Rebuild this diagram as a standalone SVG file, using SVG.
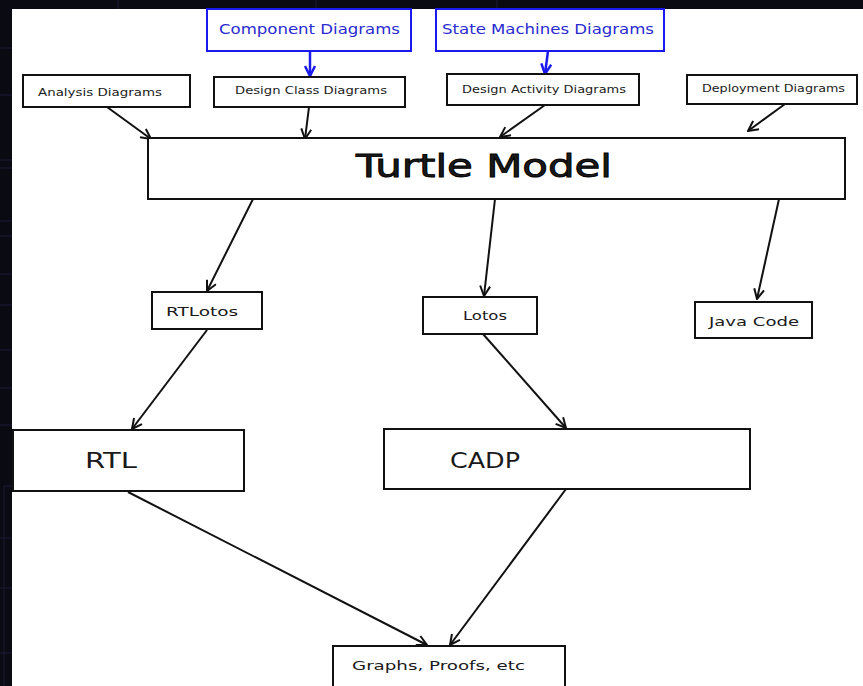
<svg xmlns="http://www.w3.org/2000/svg" width="863" height="686" viewBox="0 0 863 686">
  <style>
    .box { fill: #ffffff; stroke: #111111; stroke-width: 2; }
    .bbox { fill: #ffffff; stroke: #1a1aee; stroke-width: 2; }
    .lbl { font-family: "DejaVu Sans", Verdana, sans-serif; fill: #1a1a1a; }
    .blbl { font-family: "DejaVu Sans", Verdana, sans-serif; fill: #2a2ad0; }
    .edge { stroke: #111111; stroke-width: 2; fill: none; marker-end: url(#arr); }
    .bedge { stroke: #1a1aee; stroke-width: 2.5; fill: none; marker-end: url(#barr); }
    .grid { stroke: #1a1a36; stroke-width: 1; }
  </style>
  <defs>
    <marker id="arr" viewBox="0 0 12 12" refX="11" refY="6" markerWidth="12" markerHeight="12" markerUnits="userSpaceOnUse" orient="auto">
      <path d="M1,1 L11,6 L1,11" fill="none" stroke="#111111" stroke-width="2"/>
    </marker>
    <marker id="barr" viewBox="0 0 12 12" refX="11" refY="6" markerWidth="12" markerHeight="12" markerUnits="userSpaceOnUse" orient="auto">
      <path d="M1,1 L11,6 L1,11" fill="none" stroke="#1a1aee" stroke-width="2.5"/>
    </marker>
  </defs>

  <!-- dark backdrop with faint grid -->
  <rect x="0" y="0" width="863" height="686" fill="#0a0a12"/>
  <g id="grid">
    <line class="grid" x1="118" y1="0" x2="118" y2="9"/>
    <line class="grid" x1="316" y1="0" x2="316" y2="9"/>
    <line class="grid" x1="497" y1="0" x2="497" y2="9"/>
    <line class="grid" x1="0" y1="48" x2="12" y2="48"/>
    <line class="grid" x1="0" y1="95" x2="12" y2="95"/>
    <line class="grid" x1="0" y1="160" x2="12" y2="160"/>
    <line class="grid" x1="0" y1="168" x2="12" y2="168"/>
    <line class="grid" x1="0" y1="221" x2="12" y2="221"/>
    <line class="grid" x1="0" y1="236" x2="12" y2="236"/>
    <line class="grid" x1="0" y1="274" x2="12" y2="274"/>
    <line class="grid" x1="0" y1="305" x2="12" y2="305"/>
    <line class="grid" x1="0" y1="350" x2="12" y2="350"/>
    <line class="grid" x1="0" y1="388" x2="12" y2="388"/>
    <line class="grid" x1="0" y1="425" x2="12" y2="425"/>
    <line class="grid" x1="4" y1="486" x2="12" y2="486"/>
    <line class="grid" x1="4" y1="486" x2="4" y2="686"/>
    <line class="grid" x1="0" y1="538" x2="12" y2="538"/>
    <line class="grid" x1="0" y1="588" x2="12" y2="588"/>
    <line class="grid" x1="0" y1="653" x2="12" y2="653"/>
  </g>
  <!-- drawing sheet -->
  <rect x="12" y="9" width="851" height="677" fill="#ffffff"/>

  <!-- connectors -->
  <g id="connectors">
    <line class="bedge" x1="310" y1="51" x2="310" y2="76"/>
    <line class="bedge" x1="548" y1="51" x2="545" y2="74"/>
    <line class="edge" x1="107" y1="107" x2="151" y2="139"/>
    <line class="edge" x1="309" y1="107" x2="305" y2="139"/>
    <line class="edge" x1="545" y1="105" x2="500" y2="137"/>
    <line class="edge" x1="785" y1="104" x2="748" y2="131"/>
    <line class="edge" x1="253" y1="199" x2="207" y2="291"/>
    <line class="edge" x1="495" y1="199" x2="484" y2="296"/>
    <line class="edge" x1="779" y1="199" x2="757" y2="299"/>
    <line class="edge" x1="207" y1="330" x2="132" y2="429"/>
    <line class="edge" x1="483" y1="334" x2="566" y2="428"/>
    <line class="edge" x1="128" y1="492" x2="427" y2="645"/>
    <line class="edge" x1="566" y1="489" x2="450" y2="645"/>
  </g>

  <g id="component">
    <rect class="bbox" x="207" y="9" width="204" height="42"/>
    <text class="blbl" x="219" y="34" font-size="14" textLength="181" lengthAdjust="spacingAndGlyphs">Component Diagrams</text>
  </g>
  <g id="statemachines">
    <rect class="bbox" x="436" y="9" width="228" height="42"/>
    <text class="blbl" x="442" y="34" font-size="14" textLength="212" lengthAdjust="spacingAndGlyphs">State Machines Diagrams</text>
  </g>
  <g id="analysis">
    <rect class="box" x="23" y="75" width="167" height="32"/>
    <text class="lbl" x="38" y="96" font-size="11" textLength="124" lengthAdjust="spacingAndGlyphs">Analysis Diagrams</text>
  </g>
  <g id="designclass">
    <rect class="box" x="214" y="77" width="191" height="30"/>
    <text class="lbl" x="235" y="94" font-size="11" textLength="152" lengthAdjust="spacingAndGlyphs">Design Class Diagrams</text>
  </g>
  <g id="designactivity">
    <rect class="box" x="447" y="74" width="192" height="31"/>
    <text class="lbl" x="462" y="93" font-size="11" textLength="164" lengthAdjust="spacingAndGlyphs">Design Activity Diagrams</text>
  </g>
  <g id="deployment">
    <rect class="box" x="687" y="75" width="170" height="29"/>
    <text class="lbl" x="702" y="92" font-size="11" textLength="143" lengthAdjust="spacingAndGlyphs">Deployment Diagrams</text>
  </g>
  <g id="turtle">
    <rect class="box" x="148" y="138" width="697" height="61"/>
    <text class="lbl" x="356" y="177" font-size="32" textLength="256" lengthAdjust="spacingAndGlyphs" fill="#000000" stroke="#000000" stroke-width="0.9">Turtle Model</text>
  </g>
  <g id="rtlotos">
    <rect class="box" x="152" y="292" width="110" height="37"/>
    <text class="lbl" x="166" y="316" font-size="13" textLength="72" lengthAdjust="spacingAndGlyphs">RTLotos</text>
  </g>
  <g id="lotos">
    <rect class="box" x="423" y="297" width="114" height="37"/>
    <text class="lbl" x="463" y="320" font-size="13" textLength="44" lengthAdjust="spacingAndGlyphs">Lotos</text>
  </g>
  <g id="javacode">
    <rect class="box" x="695" y="302" width="117" height="36"/>
    <text class="lbl" x="709" y="326" font-size="13" textLength="90" lengthAdjust="spacingAndGlyphs">Java Code</text>
  </g>
  <g id="rtl">
    <rect class="box" x="13" y="430" width="231" height="61"/>
    <text class="lbl" x="85" y="468" font-size="21" textLength="52" lengthAdjust="spacingAndGlyphs">RTL</text>
  </g>
  <g id="cadp">
    <rect class="box" x="384" y="429" width="366" height="60"/>
    <text class="lbl" x="450" y="468" font-size="21" textLength="70" lengthAdjust="spacingAndGlyphs">CADP</text>
  </g>
  <g id="graphs">
    <rect class="box" x="333" y="646" width="232" height="45"/>
    <text class="lbl" x="352" y="670" font-size="13" textLength="173" lengthAdjust="spacingAndGlyphs">Graphs, Proofs, etc</text>
  </g>
</svg>
